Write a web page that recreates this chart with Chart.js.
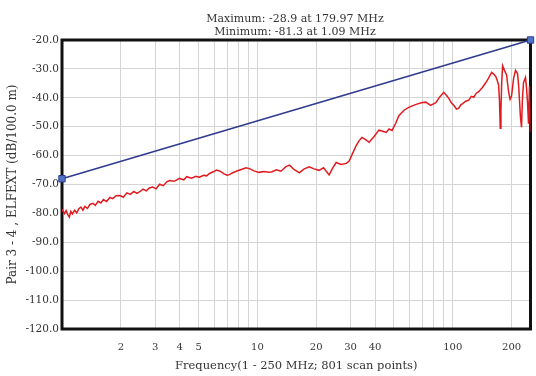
<!DOCTYPE html>
<html>
<head>
<meta charset="utf-8">
<script src="https://cdn.jsdelivr.net/npm/chart.js@4.4.1/dist/chart.umd.min.js"></script>
<style>
  html, body { margin: 0; padding: 0; background: #fff; }
  #wrap { width: 536px; height: 376px; }
</style>
</head>
<body>
<div id="wrap"><canvas id="elfext"></canvas></div>
<script>
const freqMHz = [1.00, 1.012, 1.03, 1.05, 1.07, 1.09, 1.11, 1.13, 1.16, 1.19, 1.22, 1.25, 1.28, 1.31, 1.35, 1.39,
  1.44, 1.48, 1.53, 1.58, 1.63, 1.69, 1.76, 1.82, 1.89, 1.98, 2.06, 2.15, 2.24, 2.33, 2.42, 2.50, 2.60, 2.70,
  2.80, 2.91, 3.03, 3.16, 3.30, 3.45, 3.56, 3.75, 4.00, 4.20, 4.35, 4.60, 4.85, 5.06, 5.30, 5.50, 5.69, 5.95,
  6.17, 6.45, 6.75, 7.00, 7.19, 7.44, 7.80, 8.20, 8.76, 9.10, 9.60, 10.2, 10.8, 11.5, 11.9, 12.5, 13.2, 14.0,
  14.6, 15.4, 16.4, 17.3, 18.4, 19.5, 20.7, 21.8, 23.3, 24.2, 25.3, 26.8, 28.5, 29.5, 30.6, 32.0, 33.2, 34.3,
  35.8, 37.3, 39.5, 41.9, 43.8, 45.6, 47.2, 48.9, 51.0, 53.0, 56.3, 59.6, 62.5, 65.6, 69.0, 72.8, 77.0, 81.9,
  85.8, 89.9, 93.0, 95.5, 98.5, 101.3, 104.5, 107.3, 110.0, 112.5, 116.5, 120.7, 124.5, 128.0, 132.0, 135.7,
  141.5, 147.5, 152.5, 158.1, 162.0, 166.0, 169.0, 171.7, 173.5, 175.0, 176.5, 178.0, 179.97, 184.2, 188.6,
  193.1, 196.5, 200.0, 204.9, 209.6, 214.6, 217.5, 219.7, 222.0, 224.9, 227.5, 230.2, 235.7, 238.5, 241.3,
  244.2, 247.0, 249.0, 250.0];
const elfextDb = [-78.6, -79.2, -80.1, -79.0, -80.4, -81.3, -79.3, -80.2, -78.9, -79.8, -78.4, -77.8, -78.9, -77.6, -78.3, -76.9,
  -76.5, -77.2, -75.8, -76.4, -75.2, -75.9, -74.5, -74.9, -73.9, -73.8, -74.4, -72.9, -73.4, -72.4, -73.1, -72.5, -71.6, -72.2,
  -71.2, -70.9, -71.5, -69.9, -70.4, -69.0, -68.6, -68.9, -67.9, -68.4, -67.3, -67.8, -67.2, -67.5, -66.8, -67.0, -66.2, -65.6,
  -65.0, -65.4, -66.3, -66.8, -66.6, -66.0, -65.4, -64.9, -64.2, -64.5, -65.3, -65.8, -65.5, -65.8, -65.6, -64.9, -65.4, -63.8,
  -63.3, -64.8, -66.0, -64.7, -63.9, -64.6, -65.1, -64.2, -66.7, -64.5, -62.4, -63.1, -62.7, -61.9, -59.5, -56.6, -54.8, -53.7,
  -54.5, -55.4, -53.5, -51.2, -51.6, -52.0, -50.8, -51.3, -48.9, -46.2, -44.3, -43.3, -42.7, -42.2, -41.7, -41.5, -42.6, -41.7,
  -39.7, -38.1, -39.2, -40.2, -41.8, -42.6, -43.9, -43.6, -42.4, -42.0, -41.2, -40.8, -39.5, -39.8, -38.4, -37.9,
  -36.5, -34.8, -33.2, -31.2, -31.8, -32.6, -34.0, -35.7, -41.0, -50.5, -44.0, -35.0, -28.9, -30.6, -32.1,
  -37.9, -40.5, -39.4, -33.2, -30.5, -31.6, -36.0, -41.0, -46.5, -50.2, -40.0, -34.8, -33.0, -36.5, -41.5,
  -49.0, -36.0, -44.0, -51.8];

// limit line end points
const limitFreq = [1, 250];
const limitDb = [-68.0, -20.0];

const xLabelled = [2, 3, 4, 5, 10, 20, 30, 40, 100, 200];
const xGrid = [1, 2, 3, 4, 5, 6, 7, 8, 9, 10, 20, 30, 40, 50, 60, 70, 80, 90, 100, 200, 250];

const titleLines = ['Maximum: -28.9 at 179.97 MHz', 'Minimum: -81.3 at 1.09 MHz'];
const SERIF = "'DejaVu Serif', 'Liberation Serif', serif";

const frameAndTitle = {
  id: 'frameAndTitle',
  beforeDatasetsDraw(chart) {
    const { ctx, chartArea: a } = chart;
    ctx.save();
    ctx.strokeStyle = '#111';
    ctx.lineWidth = 3;
    ctx.strokeRect(a.left, a.top, a.right - a.left, a.bottom - a.top);
    ctx.restore();
  },
  afterDraw(chart) {
    const { ctx } = chart;
    ctx.save();
    ctx.fillStyle = '#333';
    ctx.font = '11px ' + SERIF;
    ctx.textAlign = 'center';
    ctx.textBaseline = 'middle';
    ctx.fillText(titleLines[0], 295, 19);
    ctx.fillText(titleLines[1], 295, 32);
    ctx.restore();
  }
};

new Chart(document.getElementById('elfext'), {
  type: 'line',
  data: {
    datasets: [
      {
        label: 'limit',
        data: limitFreq.map((f, i) => ({ x: f, y: limitDb[i] })),
        borderColor: '#2f3b8e',
        borderWidth: 1.6,
        pointStyle: 'rect',
        pointRadius: 4.5,
        pointBackgroundColor: '#4f74c8',
        pointBorderColor: '#2f3b8e',
        pointBorderWidth: 1,
        clip: false,
        tension: 0
      },
      {
        label: 'ELFEXT',
        data: freqMHz.map((f, i) => ({ x: f, y: elfextDb[i] })),
        borderColor: '#e01b1f',
        borderWidth: 1.5,
        pointRadius: 0,
        tension: 0
      }
    ]
  },
  options: {
    responsive: true,
    maintainAspectRatio: false,
    animation: false,
    layout: { padding: { left: 0, right: 0, top: 40, bottom: 0 } },
    plugins: {
      legend: { display: false },
      tooltip: { enabled: false }
    },
    scales: {
      x: {
        type: 'logarithmic',
        min: 1,
        max: 250,
        afterBuildTicks: s => { s.ticks = xGrid.map(v => ({ value: v })); },
        afterFit: s => { s.height = 47; s.paddingRight = 3; },
        ticks: {
          autoSkip: false,
          maxRotation: 0,
          padding: 12,
          color: '#333',
          font: { family: SERIF, size: 10 },
          callback: v => xLabelled.includes(v) ? String(v) : ''
        },
        grid: { color: '#d4d4d4', drawTicks: false },
        border: { display: false },
        title: {
          display: true,
          text: 'Frequency(1 - 250 MHz; 801 scan points)',
          color: '#333',
          font: { family: SERIF, size: 11.5 },
          padding: { top: 2, bottom: 3 }
        }
      },
      y: {
        min: -120,
        max: -20,
        afterFit: s => { s.width = 62; },
        ticks: {
          stepSize: 10,
          padding: 3,
          color: '#333',
          font: { family: SERIF, size: 10.5 },
          callback: v => v.toFixed(1)
        },
        grid: { color: '#d4d4d4', drawTicks: false },
        border: { display: false },
        title: {
          display: true,
          text: 'Pair 3 - 4 , ELFEXT (dB/100.0 m)',
          color: '#333',
          font: { family: SERIF, size: 12 },
          padding: { top: 6, bottom: 0 }
        }
      }
    }
  },
  plugins: [frameAndTitle]
});
</script>
</body>
</html>
